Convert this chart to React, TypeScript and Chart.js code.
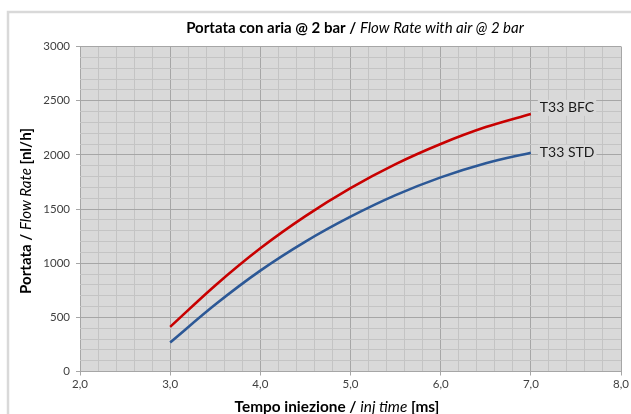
import { useEffect, useRef } from "react";
import { Chart, registerables } from "chart.js";

Chart.register(...registerables);

// ---- data ----
const injTime = [3.0, 3.5, 4.0, 4.5, 5.0, 5.5, 6.0, 6.5, 7.0];
const flowBFC = [412, 794, 1137, 1434, 1692, 1914, 2100, 2256, 2378];
const flowSTD = [268, 618, 931, 1199, 1429, 1628, 1792, 1923, 2020];
const seriesNames = ["T33 BFC", "T33 STD"];
const seriesColors = ["#c80000", "#2c5896"];
const xMajorTicks = [2, 3, 4, 5, 6, 7, 8];
const yMajorTicks = [0, 500, 1000, 1500, 2000, 2500, 3000];

const FONT = "Lato";

type Part = { text: string; bold?: boolean; italic?: boolean };

function fontOf(p: Part, size: number) {
  return `${p.italic ? "italic " : ""}${p.bold ? "bold " : ""}${size}px ${FONT}`;
}

function drawRich(ctx: CanvasRenderingContext2D, parts: Part[], cx: number, cy: number, baseSize: number, targetWidth: number, color: string) {
  let w = 0;
  for (const p of parts) {
    ctx.font = fontOf(p, baseSize);
    w += ctx.measureText(p.text).width;
  }
  const size = baseSize * (targetWidth / w);
  let total = 0;
  for (const p of parts) {
    ctx.font = fontOf(p, size);
    total += ctx.measureText(p.text).width;
  }
  let x = cx - total / 2;
  ctx.fillStyle = color;
  ctx.textBaseline = "middle";
  ctx.textAlign = "left";
  for (const p of parts) {
    ctx.font = fontOf(p, size);
    ctx.fillText(p.text, x, cy);
    x += ctx.measureText(p.text).width;
  }
}

const isMajorX = (v: number) => xMajorTicks.some((m) => Math.abs(m - v) < 1e-6);
const isMajorY = (v: number) => yMajorTicks.some((m) => Math.abs(m - v) < 1e-6);

const decorPlugin = {
  id: "decor",
  beforeDraw(chart: any) {
    const { ctx, chartArea } = chart;
    ctx.save();
    ctx.strokeStyle = "#d9d9d9";
    ctx.lineWidth = 2.5;
    ctx.strokeRect(8, 12, 700, 500);
    ctx.fillStyle = "#d9d9d9";
    ctx.fillRect(chartArea.left, chartArea.top, chartArea.right - chartArea.left, chartArea.bottom - chartArea.top);
    ctx.restore();
  },
  afterDraw(chart: any) {
    const { ctx } = chart;
    ctx.save();
    drawRich(ctx, [
      { text: "Portata con aria @ 2 bar / ", bold: true },
      { text: "Flow Rate with air @ 2 bar", italic: true },
    ], 355, 28, 14, 338, "#000000");
    drawRich(ctx, [
      { text: "Tempo iniezione / ", bold: true },
      { text: "inj time", italic: true },
      { text: " [ms]", bold: true },
    ], 337, 407, 14, 205, "#000000");
    ctx.translate(26, 211);
    ctx.rotate(-Math.PI / 2);
    drawRich(ctx, [
      { text: "Portata / ", bold: true },
      { text: "Flow Rate", italic: true },
      { text: " [nl/h]", bold: true },
    ], 0, 0, 14, 166, "#000000");
    ctx.restore();

    // end-of-line labels
    ctx.save();
    ctx.font = `14px ${FONT}`;
    ctx.textBaseline = "middle";
    ctx.textAlign = "left";
    const offsets = [-6, 0];
    chart.data.datasets.forEach((ds: any, i: number) => {
      const meta = chart.getDatasetMeta(i);
      const pt = meta.data[meta.data.length - 1];
      const x = pt.x + 9;
      const y = pt.y + offsets[i];
      const w = ctx.measureText(ds.label).width;
      ctx.fillStyle = "#d9d9d9";
      ctx.fillRect(x - 2, y - 8, w + 4, 16);
      ctx.fillStyle = "#1a1a1a";
      ctx.fillText(ds.label, x, y);
    });
    ctx.restore();
  },
};

export default function App() {
  const ref = useRef<HTMLCanvasElement | null>(null);
  useEffect(() => {
    document.body.style.margin = "0";
    document.body.style.overflow = "hidden";
    const canvas = ref.current!;
    const chart = new Chart(canvas, {
      type: "line",
      data: {
        datasets: [
          {
            label: seriesNames[0],
            data: injTime.map((x, i) => ({ x, y: flowBFC[i] })),
            borderColor: seriesColors[0],
            borderWidth: 2.6,
            pointRadius: 0,
            cubicInterpolationMode: "monotone",
            fill: false,
          },
          {
            label: seriesNames[1],
            data: injTime.map((x, i) => ({ x, y: flowSTD[i] })),
            borderColor: seriesColors[1],
            borderWidth: 2.6,
            pointRadius: 0,
            cubicInterpolationMode: "monotone",
            fill: false,
          },
        ],
      },
      options: {
        responsive: false,
        animation: false,
        layout: { padding: { top: 46.5, right: 9, left: 0, bottom: 0 } },
        plugins: {
          legend: { display: false },
          tooltip: { enabled: false },
          title: { display: false },
        },
        scales: {
          x: {
            type: "linear",
            min: 2,
            max: 8,
            afterFit: (s: any) => {
              s.height = 42.5;
            },
            ticks: {
              stepSize: 0.2,
              autoSkip: false,
              maxRotation: 0,
              padding: 2,
              color: "#404040",
              font: { family: FONT, size: 11.5 },
              callback: (v: any) => (isMajorX(Number(v)) ? Number(v).toFixed(1).replace(".", ",") : ""),
            },
            grid: {
              color: (c: any) => (c.tick && isMajorX(c.tick.value) ? "#a6a6a6" : "#c4c4c4"),
              tickColor: (c: any) => (c.tick && isMajorX(c.tick.value) ? "#a6a6a6" : "rgba(0,0,0,0)"),
              tickLength: 4,
              lineWidth: 1,
            },
            border: { display: false },
          },
          y: {
            type: "linear",
            min: 0,
            max: 3000,
            afterFit: (s: any) => {
              s.width = 80;
            },
            ticks: {
              stepSize: 100,
              autoSkip: false,
              padding: 6,
              color: "#404040",
              font: { family: FONT, size: 11.5 },
              callback: (v: any) => (isMajorY(Number(v)) ? String(Math.round(Number(v))) : ""),
            },
            grid: {
              color: (c: any) => (c.tick && isMajorY(c.tick.value) ? "#a6a6a6" : "#c4c4c4"),
              tickColor: (c: any) => (c.tick && isMajorY(c.tick.value) ? "#a6a6a6" : "rgba(0,0,0,0)"),
              tickLength: 4,
              lineWidth: 1,
            },
            border: { display: false },
          },
        },
      } as any,
      plugins: [decorPlugin],
    });
    return () => chart.destroy();
  }, []);
  return <canvas ref={ref} width={631} height={414} style={{ display: "block", width: 631, height: 414 }} />;
}
